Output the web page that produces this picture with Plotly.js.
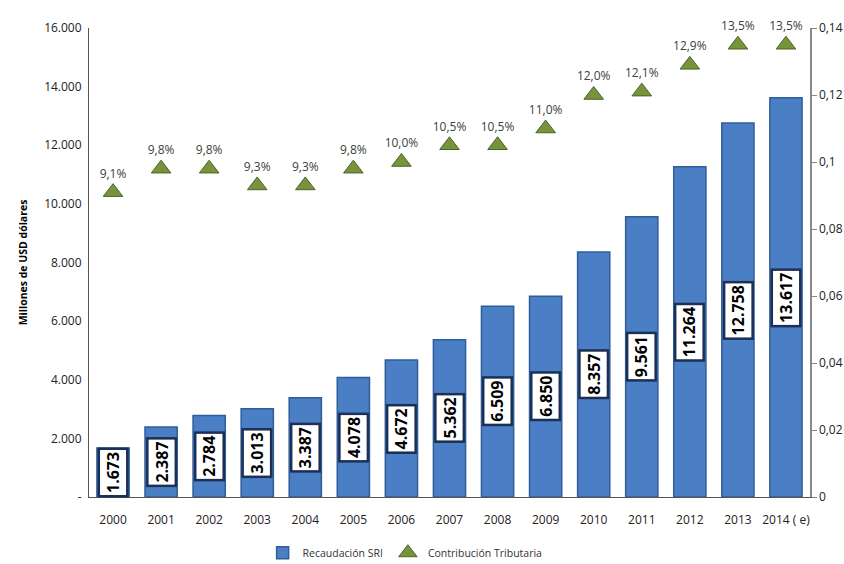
<!DOCTYPE html>
<html><head><meta charset="utf-8">
<script src="https://cdn.plot.ly/plotly-3.0.1.min.js"></script>
<style>html,body{margin:0;padding:0;background:#fff}#chart{width:844px;height:564px}</style>
</head><body><div id="chart"></div>
<script>
const years = ["2000","2001","2002","2003","2004","2005","2006","2007","2008","2009","2010","2011","2012","2013","2014 ( e)"];
const recaudacion = [1673,2387,2784,3013,3387,4078,4672,5362,6509,6850,8357,9561,11264,12758,13617];
const contribucion = [0.091,0.098,0.098,0.093,0.093,0.098,0.100,0.105,0.105,0.110,0.120,0.121,0.129,0.135,0.135];
const leftTicks = [0,2000,4000,6000,8000,10000,12000,14000,16000];
const leftTickText = ["-","2.000","4.000","6.000","8.000","10.000","12.000","14.000","16.000"];
const rightTicks = [0,0.02,0.04,0.06,0.08,0.1,0.12,0.14];
const rightTickText = ["0","0,02","0,04","0,06","0,08","0,1","0,12","0,14"];

function fmt(v){ return String(v).replace(/\B(?=(\d{3})+(?!\d))/g, "."); }

const FONT = "Open Sans, Liberation Sans, sans-serif";

const traces = [
  {
    type: "bar", name: "Recaudación SRI", x: years, y: recaudacion,
    marker: {color: "#4a7fc6", line: {color: "#2f5d9a", width: 1.5}},
    hoverinfo: "x+y"
  },
  {
    type: "scatter", mode: "markers+text", name: "Contribución Tributaria",
    x: years, y: contribucion, yaxis: "y2",
    marker: {symbol: "triangle-up", size: 17, color: "#77933c", line: {color: "#4f6228", width: 1}},
    texttemplate: "%{y:.1%}", textposition: "top center",
    textfont: {family: FONT, size: 12, color: "#404040"},
    cliponaxis: false
  }
];

const annotations = years.map((yr, i) => ({
  x: i, y: recaudacion[i] / 2, xref: "x", yref: "y",
  text: "<b>" + fmt(recaudacion[i]) + "</b>", textangle: -90, showarrow: false,
  font: {family: FONT, size: 16, color: "#000"},
  bgcolor: "#ffffff", bordercolor: "#1c2f55", borderwidth: 2.5, borderpad: 2
}));

const layout = {
  width: 844, height: 564,
  margin: {l: 89, r: 34, t: 28, b: 67, autoexpand: false},
  paper_bgcolor: "#fff", plot_bgcolor: "#fff",
  separators: ",.",
  font: {family: FONT, size: 11, color: "#222"},
  bargap: 0.33,
  showlegend: true,
  legend: {orientation: "h", x: 0.48, xref: "container", xanchor: "center", y: 0.02, yref: "container", yanchor: "middle",
           font: {family: FONT, size: 10.5, color: "#333"}, itemwidth: 30, tracegroupgap: 0},
  xaxis: {type: "category", showline: true, linecolor: "#555", linewidth: 1, ticks: "outside", ticklen: 12, tickcolor: "rgba(0,0,0,0)",
          tickfont: {family: FONT, size: 12, color: "#222"}, range: [-0.5, 14.5], fixedrange: true},
  yaxis: {range: [0, 16000], tickvals: leftTicks, ticktext: leftTickText, showgrid: false, zeroline: false,
          showline: true, linecolor: "#555", linewidth: 1, ticks: "outside", ticklen: 4, tickcolor: "#fff",
          tickfont: {family: FONT, size: 12, color: "#222"},
          title: {text: "<b>Millones de USD dólares</b>", font: {family: FONT, size: 10.5, color: "#000"}, standoff: 14}},
  yaxis2: {overlaying: "y", side: "right", range: [0, 0.14], tickvals: rightTicks, ticktext: rightTickText,
           showgrid: false, zeroline: false, showline: true, linecolor: "#888", linewidth: 1.5,
           ticks: "outside", ticklen: 5, tickcolor: "#888",
           tickfont: {family: FONT, size: 12, color: "#222"}},
  annotations: annotations
};

Plotly.newPlot("chart", traces, layout, {displayModeBar: false, staticPlot: true});
</script></body></html>
